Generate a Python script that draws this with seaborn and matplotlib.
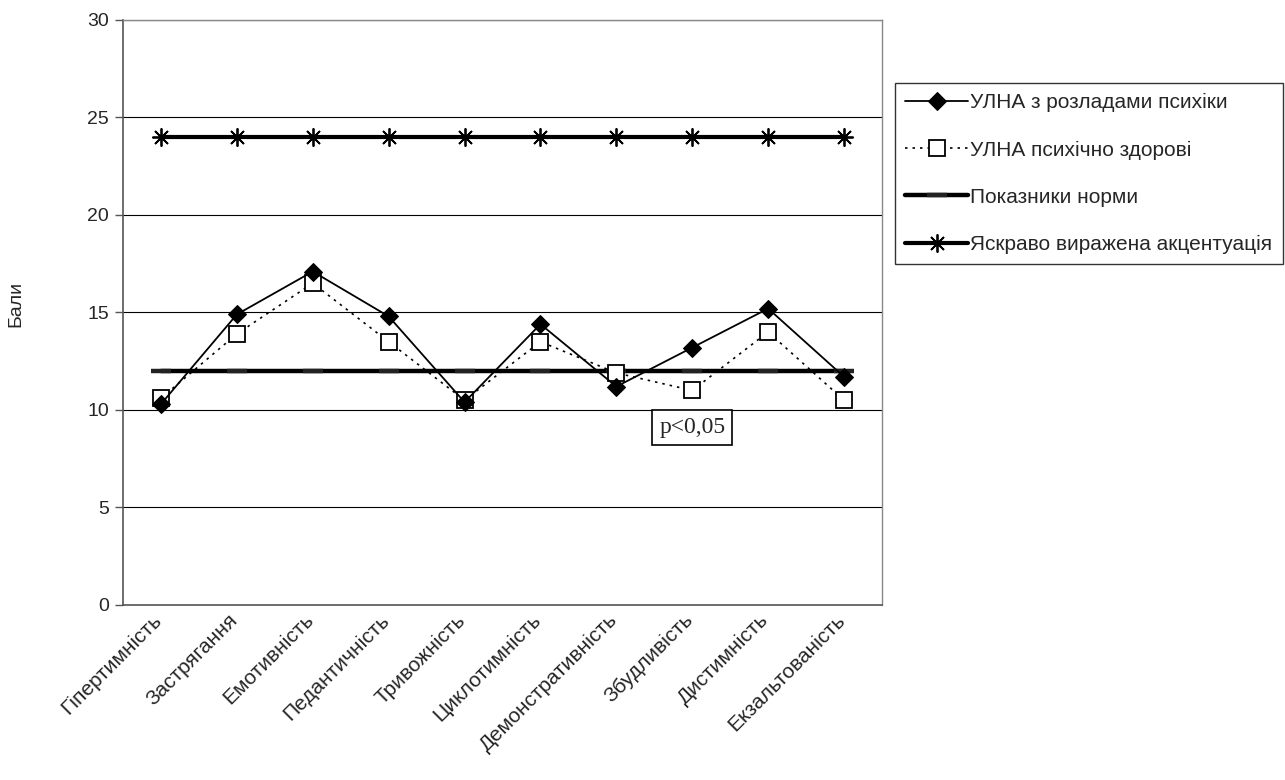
import matplotlib
matplotlib.use("Agg")
import matplotlib.pyplot as plt
import matplotlib.transforms as mtransforms
import seaborn as sns
import numpy as np

categories = ["Гіпертимність", "Застрягання", "Емотивність", "Педантичність",
              "Тривожність", "Циклотимність", "Демонстративність", "Збудливість",
              "Дистимність", "Екзальтованість"]
disorders = [10.3, 14.9, 17.1, 14.8, 10.4, 14.4, 11.2, 13.2, 15.2, 11.7]
healthy = [10.6, 13.9, 16.5, 13.5, 10.5, 13.5, 11.9, 11.0, 14.0, 10.5]
norm = [12] * 10
accent = [24] * 10
labels = ["УЛНА з розладами психіки", "УЛНА психічно здорові",
          "Показники норми", "Яскраво виражена акцентуація"]

sns.set_style("white")
plt.rcParams["font.family"] = ["Liberation Sans", "DejaVu Sans"]

fig = plt.figure(figsize=(12.85, 7.8), dpi=100)
ax = fig.add_axes([0.0957, 0.2244, 0.5907, 0.75])

x = np.arange(len(categories))

sns.lineplot(x=x, y=accent, ax=ax, color="black", linewidth=3,
             marker=(8, 2, 0), markersize=13, markeredgewidth=1.3,
             markeredgecolor="black", label=labels[3])
sns.lineplot(x=x, y=norm, ax=ax, color="black", linewidth=3.2,
             marker="_", markersize=14, markeredgewidth=3.2,
             markeredgecolor="#222222", label=labels[2])
sns.lineplot(x=x, y=healthy, ax=ax, color="black", linewidth=1.2, linestyle=(0, (1.5, 3)),
             marker="s", markersize=12, markerfacecolor="white",
             markeredgecolor="black", markeredgewidth=1.3, label=labels[1])
sns.lineplot(x=x, y=disorders, ax=ax, color="black", linewidth=1.3,
             marker="D", markersize=9, markeredgecolor="black", label=labels[0])

ax.set_xlim(-0.5, len(categories) - 0.5)
ax.set_ylim(0, 30)
ax.set_yticks(range(0, 31, 5))
ax.set_yticklabels([str(v) for v in range(0, 31, 5)], fontsize=14)
ax.set_xticks(x)
ax.set_xticklabels(categories, rotation=45, ha="right", rotation_mode="anchor",
                   fontsize=15)
ax.set_xticks(np.arange(-0.5, len(categories), 1), minor=True)
ax.tick_params(axis="x", which="major", length=0, pad=4)
ax.tick_params(axis="x", which="minor", length=6, width=1, color="#555555", direction="out")
ax.tick_params(axis="y", length=6, width=1, color="#555555", direction="out", left=True, pad=4)

# shift the rotated labels a bit left, like in the original chart
offset = mtransforms.ScaledTranslation(-9 / 100, 0, fig.dpi_scale_trans)
for lab in ax.get_xticklabels():
    lab.set_transform(lab.get_transform() + offset)

ax.grid(axis="y", color="black", linewidth=0.8)
ax.set_axisbelow(True)
for side in ["left", "bottom"]:
    ax.spines[side].set_color("#555555")
    ax.spines[side].set_linewidth(1.2)
for side in ["top", "right"]:
    ax.spines[side].set_color("#888888")
    ax.spines[side].set_linewidth(1)

ax.set_xlabel("")
ax.set_ylabel("Бали", fontsize=14)
ax.yaxis.set_label_coords(-0.13, 0.515)

ax.text(7, 9.1, "p<0,05", fontsize=17, family="Liberation Serif", ha="center", va="center",
        bbox=dict(boxstyle="square,pad=0.3", facecolor="white", edgecolor="black", linewidth=1.2))

handles, lbls = ax.get_legend_handles_labels()
ax.get_legend().remove()
order = [lbls.index(l) for l in labels]
fig.legend([handles[i] for i in order], labels, loc="upper left",
           bbox_to_anchor=(0.6965, 0.8936), fontsize=15, frameon=True, fancybox=False,
           edgecolor="black", handlelength=3.0, labelspacing=1.35, borderpad=0.5,
           handletextpad=0.1, borderaxespad=0)

fig.savefig("out.png", dpi=100)
